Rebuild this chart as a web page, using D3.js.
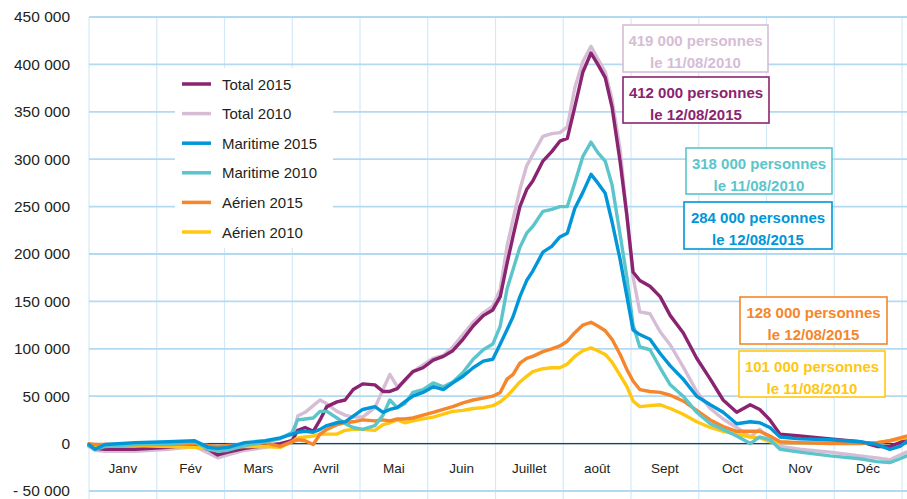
<!DOCTYPE html>
<html lang="fr">
<head>
<meta charset="UTF-8">
<title>Passagers 2010 / 2015</title>
<script src="https://d3js.org/d3.v7.min.js"></script>
<style>
    body { margin: 0; background: #ffffff; font-family: "Liberation Sans", Arial, sans-serif; }
    svg { display: block; }
</style>
</head>
<body>
<div id="chart"></div>
<script>
// month labels (one per gridline interval)
const months = ["Janv", "Fév", "Mars", "Avril", "Mai", "Juin", "Juillet", "août", "Sept", "Oct", "Nov", "Déc"];
const yTicks = [-50, 0, 50, 100, 150, 200, 250, 300, 350, 400, 450]; // thousands

// sample positions, in months from 1 January
const t = [0, 0.09, 0.24, 0.68, 1.17, 1.56, 1.76, 1.90, 2.05, 2.30, 2.60, 2.82, 3.00, 3.08, 3.19, 3.31, 3.41, 3.51, 3.66, 3.78,
    3.90, 4.04, 4.22, 4.34, 4.44, 4.55, 4.66, 4.78, 4.93, 5.08, 5.23, 5.37, 5.52, 5.67, 5.82, 5.96, 6.07, 6.17, 6.26, 6.36,
    6.46, 6.55, 6.70, 6.83, 6.95, 7.06, 7.17, 7.29, 7.41, 7.51, 7.62, 7.72, 7.84, 7.94, 8.03, 8.13, 8.28, 8.43, 8.58, 8.77,
    8.97, 9.17, 9.36, 9.56, 9.76, 9.90, 10.05, 10.20, 10.49, 10.94, 11.38, 11.63, 11.82, 11.97, 12.07];

// values in thousands of persons
const total2015 = [-2, -5, -6, -6, -4, -1, -6, -12, -9, -5, -2, 0, 3, 14, 17, 13, 25, 39, 44, 46,
    57, 63, 62, 55, 55, 58, 67, 76, 80, 88, 92, 98, 110, 124, 135, 141, 155, 190, 219, 250,
    268, 277, 298, 308, 319, 322, 355, 392, 412, 400, 386, 355, 297, 240, 181, 172, 166, 155, 135, 117,
    90, 68, 46, 33, 41, 36, 25, 10, 8, 5, 2, -3, -3, 1, 6];
const total2010 = [-3, -7, -8, -8, -6, -3, -10, -15, -12, -7, -4, -1, 4, 29, 33, 40, 46, 42, 34, 30,
    28, 28, 38, 57, 73, 60, 66, 76, 83, 90, 93, 102, 115, 128, 138, 145, 163, 208, 237, 268,
    293, 305, 324, 327, 328, 334, 375, 403, 419, 406, 392, 363, 310, 240, 176, 139, 137, 118, 104, 81,
    55, 37, 26, 17, 7, 15, 5, -3, -6, -9, -13, -15, -17, -12, -9];
const maritime2015 = [-1, -6, -1, 1, 2, 3, -4, -5, -4, 1, 3, 6, 10, 12, 13, 12, 15, 19, 22, 23,
    29, 36, 39, 33, 36, 38, 44, 50, 54, 60, 57, 64, 71, 80, 87, 89, 105, 120, 134, 155,
    172, 182, 202, 208, 218, 222, 248, 265, 284, 275, 264, 234, 194, 155, 120, 115, 110, 95, 82, 68,
    50, 41, 33, 21, 23, 22, 17, 7, 5, 4, 2, -1, -6, -3, 2];
const maritime2010 = [-2, -6, -3, -1, 0, 2, -6, -8, -7, -2, 2, 5, 12, 25, 26, 27, 34, 34, 27, 21,
    17, 15, 19, 30, 46, 38, 42, 54, 57, 64, 60, 65, 75, 89, 99, 105, 124, 163, 184, 207,
    222, 229, 245, 247, 250, 250, 275, 303, 318, 307, 298, 273, 220, 175, 125, 102, 99, 80, 62, 50,
    33, 21, 15, 8, 0, 7, 4, -6, -9, -13, -16, -19, -20, -16, -13];
const aerien2015 = [0, -1, -1, -1, -1, 0, -2, -3, -2, -1, 1, -3, 2, 4, 3, -1, 10, 15, 20, 22,
    23, 25, 24, 25, 24, 26, 26, 27, 30, 33, 36, 39, 43, 46, 48, 50, 54, 68, 73, 85,
    90, 92, 97, 100, 103, 108, 117, 125, 128, 124, 119, 110, 94, 78, 66, 57, 55, 54, 51, 45,
    35, 25, 18, 13, 13, 13, 8, 2, 1, 0, 0, 1, 3, 6, 8];
const aerien2010 = [-1, -2, -2, -2, -3, -4, -5, -5, -4, -3, -3, -4, 2, 6, 7, 8, 10, 10, 10, 14,
    15, 15, 14, 20, 22, 25, 22, 24, 26, 28, 31, 34, 35, 37, 38, 40, 44, 50, 57, 65,
    71, 76, 79, 80, 80, 84, 92, 98, 101, 98, 94, 86, 72, 60, 45, 39, 40, 41, 37, 31,
    23, 17, 13, 10, 7, 6, 2, 1, 1, 1, 1, 1, 3, 5, 6];

const seriesNames = ["Total 2015", "Total 2010", "Maritime 2015", "Maritime 2010", "Aérien 2015", "Aérien 2010"];
const seriesValues = [total2015, total2010, maritime2015, maritime2010, aerien2015, aerien2010];
const seriesColors = ["#8b2470", "#d6bdd5", "#0096d8", "#5bc5cb", "#f5862b", "#ffc70f"];
const drawOrder = [1, 0, 5, 4, 3, 2];

// peak annotations
const peakLabels = ["419 000 personnes", "412 000 personnes", "318 000 personnes", "284 000 personnes", "128 000 personnes", "101 000 personnes"];
const peakDates = ["le 11/08/2010", "le 12/08/2015", "le 11/08/2010", "le 12/08/2015", "le 12/08/2015", "le 11/08/2010"];
const peakSeries = [1, 0, 3, 2, 4, 5];

const width = 907, height = 499;
const margin = { left: 89, right: 5, top: 17, bottom: 8 };

const svg = d3.select("#chart").append("svg")
    .attr("width", width)
    .attr("height", height);

const x = d3.scaleLinear().domain([0, 12]).range([margin.left, width - margin.right]);
const y = d3.scaleLinear().domain([-50, 450]).range([height - margin.bottom, margin.top]);

// vertical grid (month boundaries)
svg.append("g").selectAll("line")
    .data(d3.range(0, 13))
    .enter().append("line")
    .attr("x1", d => x(d)).attr("x2", d => x(d))
    .attr("y1", y(450)).attr("y2", height)
    .attr("stroke", "#d3e9f7").attr("stroke-width", 1.2);

// horizontal grid
svg.append("g").selectAll("line")
    .data(yTicks)
    .enter().append("line")
    .attr("x1", x(0)).attr("x2", width)
    .attr("y1", d => y(d)).attr("y2", d => y(d))
    .attr("stroke", "#b3daf2").attr("stroke-width", 1.8);

// y labels
const fmt = d3.formatLocale({ decimal: ",", thousands: " ", grouping: [3], currency: ["", ""] }).format(",");
svg.append("g")
    .attr("transform", `translate(${x(0)},0)`)
    .call(d3.axisLeft(y).tickValues(yTicks).tickSize(0).tickPadding(19)
        .tickFormat(d => d < 0 ? "- " + fmt(-d * 1000) : fmt(d * 1000)))
    .call(g => g.select(".domain").remove())
    .selectAll("text")
    .attr("font-family", "Liberation Sans, Arial, sans-serif")
    .attr("font-size", 15.5)
    .attr("fill", "#231f20");

// zero line
svg.append("line")
    .attr("x1", x(0)).attr("x2", width)
    .attr("y1", y(0)).attr("y2", y(0))
    .attr("stroke", "#3a3a3a").attr("stroke-width", 1.3);

// month labels
svg.append("g").selectAll("text")
    .data(months)
    .enter().append("text")
    .attr("x", (d, i) => x(i + 0.5))
    .attr("y", 473)
    .attr("text-anchor", "middle")
    .attr("font-size", 13.5)
    .attr("fill", "#231f20")
    .text(d => d);

// legend box (covers gridlines)
svg.append("rect")
    .attr("x", 175).attr("y", 68).attr("width", 158).attr("height", 180)
    .attr("fill", "#ffffff");

const line = d3.line()
    .x((d, i) => x(t[i]))
    .y(d => y(d));

svg.append("g").selectAll("path")
    .data(drawOrder)
    .enter().append("path")
    .attr("d", k => line(seriesValues[k]))
    .attr("fill", "none")
    .attr("stroke", k => seriesColors[k])
    .attr("stroke-width", 3.4)
    .attr("stroke-linejoin", "round")
    .attr("stroke-linecap", "round");

// legend
const legend = svg.append("g").selectAll("g")
    .data(seriesNames)
    .enter().append("g")
    .attr("transform", (d, i) => `translate(182,${84 + i * 29.6})`);
legend.append("line")
    .attr("x1", 0).attr("x2", 29)
    .attr("stroke", (d, i) => seriesColors[i])
    .attr("stroke-width", 3.5);
legend.append("text")
    .attr("x", 40).attr("y", 5.5)
    .attr("font-size", 15)
    .attr("fill", "#231f20")
    .text(d => d);

// peak annotation boxes
const boxes = [
    { x: 623, y: 25, w: 145, h: 47 },
    { x: 623, y: 77, w: 146, h: 46 },
    { x: 686, y: 148, w: 146, h: 46 },
    { x: 684, y: 202, w: 148, h: 47 },
    { x: 740, y: 297, w: 147, h: 47 },
    { x: 739, y: 351, w: 146, h: 46 }
];
const ann = svg.append("g").selectAll("g")
    .data(boxes)
    .enter().append("g")
    .attr("transform", d => `translate(${d.x},${d.y})`);
ann.append("rect")
    .attr("width", d => d.w).attr("height", d => d.h)
    .attr("fill", "#ffffff")
    .attr("stroke", (d, i) => seriesColors[peakSeries[i]])
    .attr("stroke-width", 1.6);
ann.append("text")
    .attr("x", d => d.w / 2).attr("y", 20.5)
    .attr("text-anchor", "middle")
    .attr("font-size", 15).attr("font-weight", "bold")
    .attr("fill", (d, i) => seriesColors[peakSeries[i]])
    .text((d, i) => peakLabels[i]);
ann.append("text")
    .attr("x", d => d.w / 2).attr("y", 42.5)
    .attr("text-anchor", "middle")
    .attr("font-size", 15).attr("font-weight", "bold")
    .attr("fill", (d, i) => seriesColors[peakSeries[i]])
    .text((d, i) => peakDates[i]);
</script>
</body>
</html>
